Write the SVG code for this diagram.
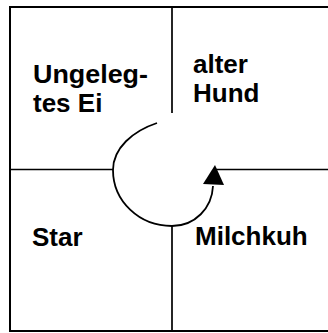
<svg xmlns="http://www.w3.org/2000/svg" width="328" height="333" viewBox="0 0 328 333">
<style>
.frame{fill:none;stroke:#000;stroke-width:2}
.grid{stroke:#000;stroke-width:1.7;fill:none}
.lbl{font-family:"Liberation Sans",Arial,sans-serif;font-weight:bold;font-size:26px;fill:#000}
.arc{fill:none;stroke:#000;stroke-width:1.8}
</style>
<rect width="328" height="333" fill="#fff"/>
<g id="grid">
<path class="frame" d="M340,7 H10 V331 H340"/>
<path class="grid" d="M172,7 V113 M172,226 V331 M10,169.5 H113 M216,169.5 H330"/>
</g>
<g id="node-ungelegtes-ei">
<text class="lbl" x="33" y="82.5" textLength="115" lengthAdjust="spacingAndGlyphs">Ungeleg-</text>
<text class="lbl" x="33" y="112">tes Ei</text>
</g>
<g id="node-alter-hund">
<text class="lbl" x="193" y="73">alter</text>
<text class="lbl" x="193" y="101.5">Hund</text>
</g>
<g id="node-star">
<text class="lbl" x="32" y="245.5">Star</text>
</g>
<g id="node-milchkuh">
<text class="lbl" x="195" y="245">Milchkuh</text>
</g>
<g id="connectors">
<path class="arc" d="M157,123 C133,131 113,148 113,170 C113,201 139,226 172,226 C195,226 212,208 213,186"/>
<polygon points="215,165 203,184 224,185" fill="#000"/>
</g>
</svg>
